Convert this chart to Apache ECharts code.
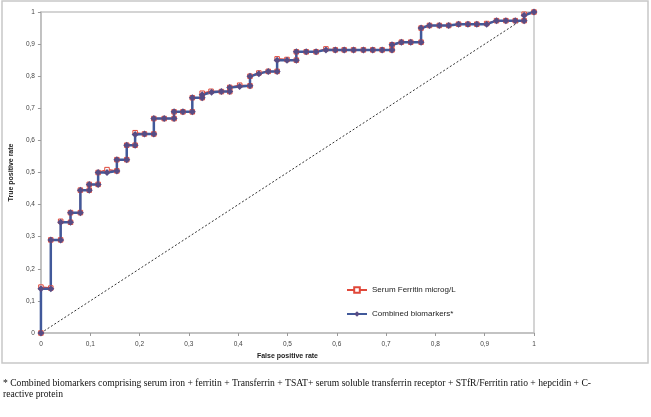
<!DOCTYPE html>
<html>
<head>
<meta charset="utf-8">
<script src="https://cdn.jsdelivr.net/npm/echarts@6/dist/echarts.min.js"></script>
<style>
  html, body { margin: 0; padding: 0; background: #fff; }
  #chart { width: 651px; height: 417px; }
</style>
</head>
<body>
<div id="chart"></div>
<script>
// ROC points: [false positive rate, true positive rate]
const combined = [
    [0, 0], [0, 0.138], [0.02, 0.138], [0.02, 0.29], [0.04, 0.29], [0.04, 0.345],
    [0.06, 0.345], [0.06, 0.375], [0.08, 0.375], [0.08, 0.445], [0.098, 0.445],
    [0.098, 0.463], [0.116, 0.463], [0.116, 0.5], [0.134, 0.5], [0.154, 0.505],
    [0.154, 0.54], [0.174, 0.54], [0.174, 0.585], [0.191, 0.585], [0.191, 0.618],
    [0.21, 0.62], [0.229, 0.62], [0.229, 0.668], [0.25, 0.668], [0.27, 0.668],
    [0.27, 0.689], [0.288, 0.689], [0.307, 0.689], [0.307, 0.733], [0.327, 0.733],
    [0.327, 0.742], [0.346, 0.75], [0.366, 0.752], [0.383, 0.752], [0.383, 0.765],
    [0.403, 0.768], [0.424, 0.77], [0.424, 0.8], [0.442, 0.808], [0.461, 0.815],
    [0.479, 0.815], [0.479, 0.85], [0.499, 0.85], [0.518, 0.85], [0.518, 0.876],
    [0.538, 0.876], [0.558, 0.876], [0.578, 0.882], [0.597, 0.882], [0.615, 0.882],
    [0.634, 0.882], [0.654, 0.882], [0.673, 0.882], [0.692, 0.882], [0.712, 0.882],
    [0.712, 0.898], [0.731, 0.906], [0.75, 0.906], [0.771, 0.906], [0.771, 0.95],
    [0.788, 0.958], [0.808, 0.958], [0.827, 0.958], [0.847, 0.962], [0.866, 0.962],
    [0.884, 0.962], [0.904, 0.962], [0.924, 0.973], [0.943, 0.973], [0.962, 0.973],
    [0.98, 0.973], [0.98, 0.99], [1, 1]
];
const ferritin = [
    [0, 0], [0, 0.143], [0.02, 0.14], [0.02, 0.29], [0.04, 0.29], [0.04, 0.348],
    [0.06, 0.345], [0.06, 0.375], [0.08, 0.375], [0.08, 0.445], [0.098, 0.445],
    [0.098, 0.463], [0.116, 0.463], [0.116, 0.5], [0.134, 0.509], [0.154, 0.505],
    [0.154, 0.54], [0.174, 0.54], [0.174, 0.585], [0.191, 0.585], [0.191, 0.624],
    [0.21, 0.62], [0.229, 0.62], [0.229, 0.668], [0.25, 0.668], [0.27, 0.668],
    [0.27, 0.689], [0.288, 0.689], [0.307, 0.689], [0.307, 0.733], [0.327, 0.733],
    [0.327, 0.747], [0.345, 0.753], [0.366, 0.752], [0.383, 0.752], [0.383, 0.765],
    [0.403, 0.772], [0.424, 0.77], [0.424, 0.8], [0.442, 0.81], [0.461, 0.815],
    [0.479, 0.815], [0.479, 0.854], [0.499, 0.852], [0.518, 0.85], [0.518, 0.876],
    [0.538, 0.876], [0.558, 0.876], [0.578, 0.885], [0.597, 0.882], [0.615, 0.882],
    [0.634, 0.882], [0.654, 0.882], [0.673, 0.882], [0.692, 0.882], [0.712, 0.882],
    [0.712, 0.898], [0.731, 0.906], [0.75, 0.906], [0.771, 0.906], [0.771, 0.95],
    [0.788, 0.958], [0.808, 0.958], [0.827, 0.958], [0.847, 0.962], [0.866, 0.962],
    [0.884, 0.962], [0.904, 0.964], [0.924, 0.973], [0.943, 0.973], [0.962, 0.973],
    [0.98, 0.973], [0.98, 0.993], [1, 1]
];
const diagonal = [[0, 0], [0.98, 0.98]];
const seriesNames = ['Serum Ferritin microg/L', 'Combined biomarkers*'];
const footnote = '* Combined biomarkers comprising serum iron + ferritin + Transferrin + TSAT+ serum soluble transferrin receptor + STfR/Ferritin ratio + hepcidin + C-\nreactive protein';

const chart = echarts.init(document.getElementById('chart'));

const commaLabel = function (v) {
    return String(Math.round(v * 10) / 10).replace('.', ',');
};

const axisCommon = {
    type: 'value',
    min: 0,
    max: 1,
    interval: 0.1,
    nameLocation: 'middle',
    nameTextStyle: { fontFamily: 'Liberation Sans', fontWeight: 'bold', fontSize: 7, color: '#222' },
    axisLine: { show: true, lineStyle: { color: '#bdbdbd', width: 1.5 } },
    axisTick: { show: true, length: 3, lineStyle: { color: '#999' } },
    axisLabel: { formatter: commaLabel, fontFamily: 'Liberation Sans', fontSize: 6.5, color: '#444' },
    splitLine: { show: false }
};

chart.setOption({
    animation: false,
    backgroundColor: '#fff',
    grid: {
        left: 40, right: 117, top: 12, bottom: 84,
        show: true, borderColor: '#c6c6c6', borderWidth: 1.5
    },
    graphic: [
        {
            type: 'rect',
            shape: { x: 2, y: 1, width: 646, height: 362 },
            style: { fill: 'none', stroke: '#c8c8c8', lineWidth: 1.5 },
            silent: true
        },
        {
            type: 'text',
            left: 3, top: 378,
            style: {
                text: footnote,
                font: '9.6px "Liberation Serif"',
                fill: '#111',
                lineHeight: 11
            }
        }
    ],
    legend: {
        data: seriesNames,
        orient: 'vertical',
        left: 341, top: 281,
        itemWidth: 20, itemHeight: 7, itemGap: 16,
        textStyle: { fontFamily: 'Liberation Sans', fontSize: 8, color: '#222' }
    },
    xAxis: Object.assign({}, axisCommon, { name: 'False positive rate', nameGap: 19 }),
    yAxis: Object.assign({}, axisCommon, {
        name: 'True positive rate', nameGap: 17,
        axisLabel: Object.assign({}, axisCommon.axisLabel, { margin: 6 })
    }),
    series: [
        {
            type: 'line',
            data: diagonal,
            symbol: 'none',
            silent: true,
            lineStyle: { color: '#333', width: 1, type: [2, 2] }
        },
        {
            name: seriesNames[0],
            type: 'line',
            data: ferritin,
            symbol: 'rect',
            symbolSize: 4.5,
            lineStyle: { color: '#e0483a', width: 1.5 },
            itemStyle: { color: '#fff', borderColor: '#e0483a', borderWidth: 1 }
        },
        {
            name: seriesNames[1],
            type: 'line',
            data: combined,
            symbol: 'diamond',
            symbolSize: 7,
            lineStyle: { color: '#41599a', width: 2.5 },
            itemStyle: { color: '#574c84' }
        }
    ]
});
</script>
</body>
</html>
